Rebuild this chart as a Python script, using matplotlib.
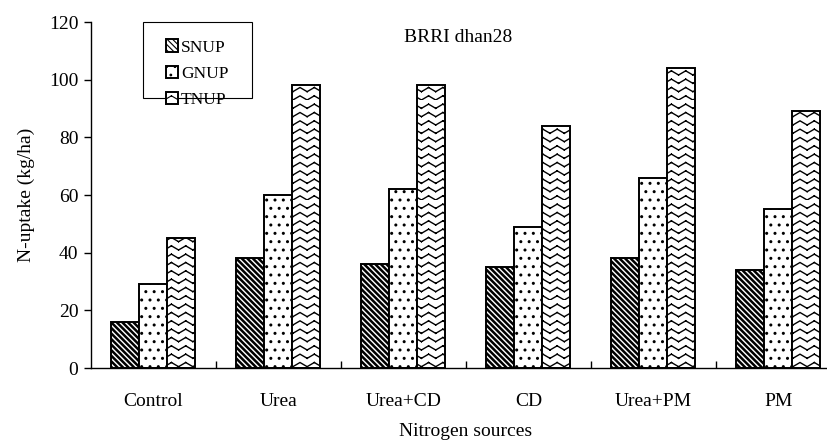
import warnings
import numpy as np
import matplotlib
matplotlib.use('Agg')
import matplotlib.pyplot as plt
from matplotlib import hatch as mhatch
from matplotlib.path import Path
from matplotlib.patches import Rectangle

warnings.filterwarnings('ignore')

sources = ['Control', 'Urea', 'Urea+CD', 'CD', 'Urea+PM', 'PM']
snup = [16, 38, 36, 35, 38, 34]
gnup = [29, 60, 62, 49, 66, 55]
tnup = [45, 98, 98, 84, 104, 89]
series_names = ['SNUP', 'GNUP', 'TNUP']


class ZigZagHatch(mhatch.HatchPatternBase):
    # wavy rows for the TNUP bars, letter 'z'
    # each stroke is its own 2-point subpath so Agg does not fill it
    def __init__(self, hatch, density):
        self.num_rows = hatch.count('z') * density
        self.num_periods = int(self.num_rows * 0.6)
        self.nseg = 2 * self.num_periods
        self.num_vertices = self.num_rows * self.nseg * 2 if self.num_rows else 0

    def set_vertices_and_codes(self, vertices, codes):
        xs = np.linspace(0, 1, self.nseg + 1)
        amp = 0.5 / self.num_rows
        offs = np.where(np.arange(self.nseg + 1) % 2 == 0, amp, 0.0)
        k = 0
        for i in range(self.num_rows):
            y = i / self.num_rows
            for j in range(self.nseg):
                vertices[k] = xs[j], y + offs[j]
                vertices[k + 1] = xs[j + 1], y + offs[j + 1]
                codes[k] = Path.MOVETO
                codes[k + 1] = Path.LINETO
                k += 2


mhatch._hatch_types.append(ZigZagHatch)

plt.rcParams['font.family'] = ['Liberation Serif', 'DejaVu Serif']


def plot_uptake():
    fig = plt.figure(figsize=(8.28, 4.45), dpi=100)
    ax = fig.add_axes([0.1099, 0.173, 0.9058, 0.7775])

    x = np.arange(len(sources))
    w = 0.224
    styles = [('\\' * 6, 1.8), ('..', 1.0), ('zz', 1.0)]
    for i, (vals, name) in enumerate(zip([snup, gnup, tnup], series_names)):
        plt.rcParams['hatch.linewidth'] = styles[i][1]
        bars = ax.bar(x + (i - 1) * w, vals, w, facecolor='white',
                      edgecolor='black', linewidth=1.4, hatch=styles[i][0],
                      label=name)
        for b in bars:
            if hasattr(b, 'set_hatch_linewidth'):
                b.set_hatch_linewidth(styles[i][1])

    ax.set_xlim(-0.5, len(sources) - 0.5)
    ax.set_ylim(0, 120)
    ax.set_yticks(range(0, 121, 20))
    ax.set_xticks(x)
    ax.set_xticklabels(sources)
    ax.set_xticks(x[:-1] + 0.5, minor=True)
    ax.tick_params(axis='x', which='major', length=0, pad=18, labelsize=14)
    ax.tick_params(axis='x', which='minor', direction='in', length=5, width=1)
    ax.tick_params(axis='y', direction='out', length=5, width=1, labelsize=14, pad=4)
    for side in ['top', 'right']:
        ax.spines[side].set_visible(False)
    ax.spines['left'].set_linewidth(1)
    ax.spines['bottom'].set_linewidth(1)

    ax.set_xlabel('Nitrogen sources', fontsize=14, labelpad=9)
    ax.set_ylabel('N-uptake (kg/ha)', fontsize=14, labelpad=10)
    ax.text(0.49, 0.955, 'BRRI dhan28', transform=ax.transAxes,
            ha='center', va='center', fontsize=14)

    leg = ax.legend(loc='upper left', bbox_to_anchor=(0.084, 0.985),
                    frameon=False, fontsize=12.5, handlelength=0.7,
                    handleheight=0.7, handletextpad=0.15, labelspacing=0.58,
                    borderpad=0.2)
    for h in leg.legend_handles:
        if hasattr(h, 'set_hatch_linewidth'):
            h.set_hatch_linewidth(0.8)
    ax.add_patch(Rectangle((52 / 750, 1 - 76 / 346), 109 / 750, 76 / 346,
                           transform=ax.transAxes, fill=False,
                           edgecolor='black', linewidth=0.8, clip_on=False))

    fig.savefig('out.png', dpi=100)


if __name__ == '__main__':
    plot_uptake()
